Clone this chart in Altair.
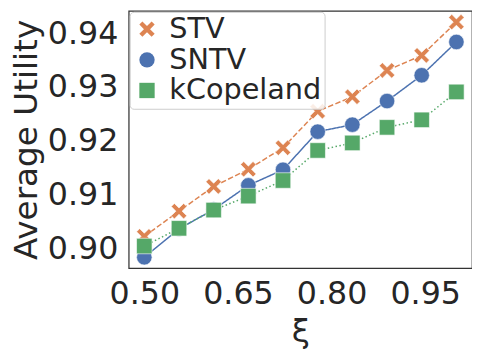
import altair as alt
import pandas as pd

# x values (xi)
xi = [0.5, 0.5556, 0.6111, 0.6667, 0.7222, 0.7778, 0.8333, 0.8889, 0.9444, 1.0]
stv = [0.9022, 0.9069, 0.9115, 0.9147, 0.9187, 0.9255, 0.9282, 0.9331, 0.9359, 0.9421]
sntv = [0.8983, 0.9036, 0.9072, 0.9117, 0.9146, 0.9217, 0.9230, 0.9274, 0.9322, 0.9384]
kcop = [0.9004, 0.9037, 0.9071, 0.9097, 0.9126, 0.9182, 0.9196, 0.9225, 0.9239, 0.9291]

methods = ["STV", "SNTV", "kCopeland"]
colors = ["#DD8452", "#4C72B0", "#55A868"]
dashes = [[5.5, 2.4], [1, 0], [1.5, 2.5]]
x_ticks = [0.50, 0.65, 0.80, 0.95]
y_ticks = [0.90, 0.91, 0.92, 0.93, 0.94]

rows = []
for m, ys in zip(methods, [stv, sntv, kcop]):
    for xv, yv in zip(xi, ys):
        rows.append({"xi": xv, "value": yv, "method": m})
df = pd.DataFrame(rows)

X_PATH = ("M-1,-0.6 L-0.6,-1 L0,-0.4 L0.6,-1 L1,-0.6 L0.4,0 L1,0.6 "
          "L0.6,1 L0,0.4 L-0.6,1 L-1,0.6 L-0.4,0 Z")

x_enc = alt.X("xi:Q", title="ξ",
              scale=alt.Scale(domain=[0.475, 1.025], nice=False, zero=False),
              axis=alt.Axis(values=x_ticks, format=".2f"))
y_enc = alt.Y("value:Q", title="Average Utility",
              scale=alt.Scale(domain=[0.8963, 0.9442], nice=False, zero=False),
              axis=alt.Axis(values=y_ticks, format=".2f"))

line_layers = []
for m, c, d in zip(methods, colors, dashes):
    line_layers.append(
        alt.Chart(df).transform_filter(alt.datum.method == m)
        .mark_line(strokeWidth=1.5, color=c, strokeDash=d)
        .encode(x=x_enc, y=y_enc)
    )

points = alt.Chart(df).mark_point(filled=True, opacity=1, size=245,
                                  stroke="white", strokeWidth=0.6).encode(
    x=x_enc, y=y_enc,
    color=alt.Color("method:N", sort=methods,
                    scale=alt.Scale(domain=methods, range=colors), title=None),
    shape=alt.Shape("method:N", sort=methods,
                    scale=alt.Scale(domain=methods, range=[X_PATH, "circle", "square"]),
                    title=None),
)

chart = alt.layer(*line_layers, points).properties(
    width=347, height=260,
    autosize=alt.AutoSizeParams(type="none"),
    padding={"left": 122, "top": 1, "right": 0, "bottom": 84},
).configure_view(
    stroke="#333333", strokeWidth=1.25,
).configure_axis(
    grid=False, ticks=False, domain=False,
    labelFontSize=32, titleFontSize=33, labelFont="DejaVu Sans", titleFont="DejaVu Sans",
    labelColor="#262626", titleColor="#262626", titleFontWeight="normal",
    labelPadding=11,
).configure_axisY(
    titlePadding=4,
).configure_axisX(
    titlePadding=6,
).configure_legend(
    orient="top-left", offset=1, padding=3,
    fillColor="rgba(255,255,255,0.85)", strokeColor="#cccccc", cornerRadius=4,
    labelFontSize=29, labelFont="DejaVu Sans", labelColor="#262626",
    symbolSize=240, symbolStrokeWidth=0, symbolOpacity=1, labelOffset=8,
    rowPadding=1,
)

chart.save("out.html", embed_options={"renderer": "svg", "actions": False})
